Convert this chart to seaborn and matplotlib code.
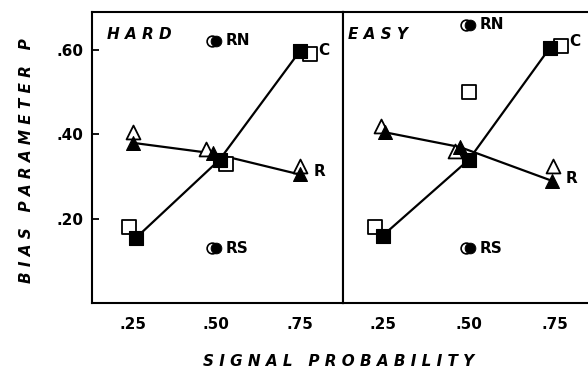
import matplotlib
matplotlib.use("Agg")
import matplotlib.pyplot as plt
import pandas as pd
import seaborn as sns

# HARD panel
HARD_R_OPEN_X = [0.25, 0.47, 0.75]
HARD_R_OPEN_Y = [0.405, 0.365, 0.325]
HARD_R_FILL_X = [0.25, 0.49, 0.75]
HARD_R_FILL_Y = [0.38, 0.355, 0.305]
HARD_C_OPEN_X = [0.24, 0.53, 0.78]
HARD_C_OPEN_Y = [0.18, 0.33, 0.59]
HARD_C_FILL_X = [0.26, 0.51, 0.75]
HARD_C_FILL_Y = [0.155, 0.34, 0.597]
HARD_RN = (0.495, 0.622)
HARD_RS = (0.495, 0.13)

# EASY panel
EASY_R_OPEN_X = [0.244, 0.459, 0.744]
EASY_R_OPEN_Y = [0.42, 0.36, 0.325]
EASY_R_FILL_X = [0.256, 0.474, 0.741]
EASY_R_FILL_Y = [0.405, 0.37, 0.29]
EASY_C_OPEN_X = [0.227, 0.50, 0.767]
EASY_C_OPEN_Y = [0.18, 0.50, 0.61]
EASY_C_FILL_X = [0.25, 0.50, 0.735]
EASY_C_FILL_Y = [0.16, 0.34, 0.605]
EASY_RN = (0.50, 0.66)
EASY_RS = (0.50, 0.13)

X_TICKS = [0.25, 0.50, 0.75]
X_TICK_LABELS = [".25", ".50", ".75"]
Y_TICKS = [0.20, 0.40, 0.60]
Y_TICK_LABELS = [".20", ".40", ".60"]

sns.set_theme(style="white")
plt.rcParams["font.family"] = ["DejaVu Sans"]
plt.rcParams["text.color"] = "black"
plt.rcParams["xtick.color"] = "black"
plt.rcParams["ytick.color"] = "black"

fig = plt.figure(figsize=(5.88, 3.77), dpi=100)
ax_hard = fig.add_axes([0.156, 0.196, 0.427, 0.772])
ax_easy = fig.add_axes([0.583, 0.196, 0.417, 0.772])

LW = 1.6
MS = 100


def draw_panel(ax, r_open, r_fill, c_open, c_fill, rn, rs):
    r_line = pd.DataFrame({"x": r_fill[0], "y": r_fill[1]})
    c_line = pd.DataFrame({"x": c_fill[0], "y": c_fill[1]})
    sns.lineplot(data=r_line, x="x", y="y", ax=ax, color="black", lw=LW,
                 sort=False, zorder=1)
    sns.lineplot(data=c_line, x="x", y="y", ax=ax, color="black", lw=LW,
                 sort=False, zorder=1)
    sns.scatterplot(x=r_open[0], y=r_open[1], ax=ax, marker="^", s=MS,
                    facecolor="white", edgecolor="black", linewidth=1.3, zorder=3)
    sns.scatterplot(x=c_open[0], y=c_open[1], ax=ax, marker="s", s=MS,
                    facecolor="white", edgecolor="black", linewidth=1.3, zorder=3)
    sns.scatterplot(x=r_fill[0], y=r_fill[1], ax=ax, marker="^", s=MS,
                    color="black", edgecolor="black", zorder=4)
    sns.scatterplot(x=c_fill[0], y=c_fill[1], ax=ax, marker="s", s=MS,
                    color="black", edgecolor="black", zorder=4)
    for pt in (rn, rs):
        sns.scatterplot(x=[pt[0] - 0.008], y=[pt[1]], ax=ax, marker="o", s=60,
                        facecolor="white", edgecolor="black", linewidth=1.2, zorder=3)
        sns.scatterplot(x=[pt[0] + 0.004], y=[pt[1]], ax=ax, marker="o", s=60,
                        color="black", edgecolor="black", zorder=4)
    lab = dict(fontsize=11, fontweight="semibold", color="black",
               textcoords="offset points", va="center")
    ax.annotate("RN", (rn[0], rn[1]), xytext=(8, 0), **lab)
    ax.annotate("RS", (rs[0], rs[1]), xytext=(8, 0), **lab)
    ax.annotate("C", (c_open[0][-1], c_open[1][-1]), xytext=(6, 3), **lab)
    ax.annotate("R", (r_fill[0][-1], r_fill[1][-1]), xytext=(10, 2), **lab)


draw_panel(ax_hard, (HARD_R_OPEN_X, HARD_R_OPEN_Y), (HARD_R_FILL_X, HARD_R_FILL_Y),
           (HARD_C_OPEN_X, HARD_C_OPEN_Y), (HARD_C_FILL_X, HARD_C_FILL_Y),
           HARD_RN, HARD_RS)
draw_panel(ax_easy, (EASY_R_OPEN_X, EASY_R_OPEN_Y), (EASY_R_FILL_X, EASY_R_FILL_Y),
           (EASY_C_OPEN_X, EASY_C_OPEN_Y), (EASY_C_FILL_X, EASY_C_FILL_Y),
           EASY_RN, EASY_RS)

ax_hard.set_xlim(0.127, 0.879)
ax_easy.set_xlim(0.134, 0.846)
for ax in (ax_hard, ax_easy):
    ax.set_ylim(0.0, 0.69)
    ax.set_xlabel("")
    ax.set_ylabel("")
    ax.set_xticks(X_TICKS)
    ax.set_xticklabels(X_TICK_LABELS, fontsize=11, fontweight="bold", color="black")
    ax.tick_params(axis="x", length=0, pad=10)
    for side in ("left", "bottom", "top", "right"):
        ax.spines[side].set_color("black")
        ax.spines[side].set_linewidth(1.5)

ax_hard.set_yticks(Y_TICKS)
ax_hard.set_yticklabels(Y_TICK_LABELS, fontsize=11, fontweight="bold", color="black")
ax_hard.tick_params(axis="y", direction="in", length=5, width=1.3, left=True, pad=6)
ax_easy.set_yticks([])
ax_easy.spines["right"].set_visible(False)

txt = dict(fontsize=11, fontstyle="italic", fontweight="bold", va="top", color="black")
ax_hard.text(0.06, 0.95, "H A R D", transform=ax_hard.transAxes, **txt)
ax_easy.text(0.02, 0.95, "E A S Y", transform=ax_easy.transAxes, **txt)

fig.text(0.575, 0.04, "S I G N A L   P R O B A B I L I T Y", ha="center",
         va="center", fontsize=11, fontstyle="italic", fontweight="bold", color="black")
fig.text(0.045, 0.575, "B I A S   P A R A M E T E R   P", ha="center",
         va="center", rotation=90, fontsize=11, fontstyle="italic", fontweight="bold",
         color="black")

fig.savefig("out.png", dpi=100)
